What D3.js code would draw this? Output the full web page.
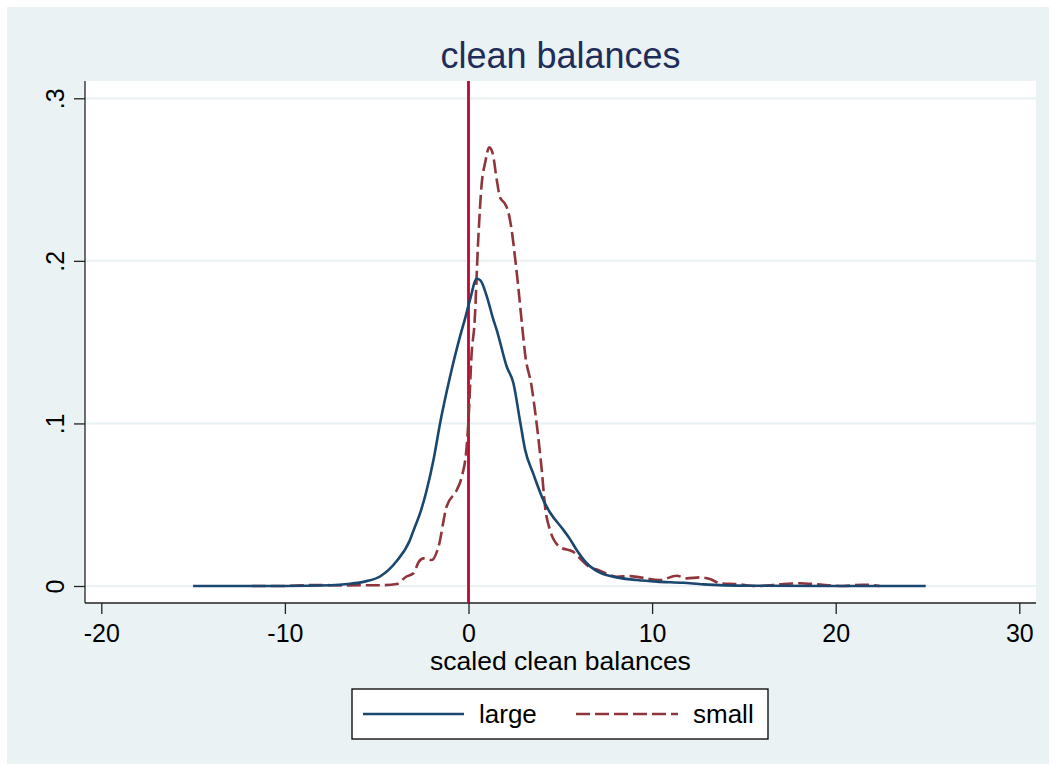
<!DOCTYPE html>
<html><head><meta charset="utf-8">
<script src="https://cdn.jsdelivr.net/npm/d3@7"></script>
<style>body{margin:0;background:#fff} svg{display:block}</style>
</head><body><svg id="c" width="1056" height="771"></svg>
<script>
// ---- data ----
const titleText = "clean balances";
const xAxisTitle = "scaled clean balances";
const xTicks = [-20, -10, 0, 10, 20, 30];
const xTickLabels = ["-20", "-10", "0", "10", "20", "30"];
const yTicks = [0, 0.1, 0.2, 0.3];
const yTickLabels = ["0", ".1", ".2", ".3"];
const seriesNames = ["large", "small"];
const refLineX = 0;

const largeX = [-15, -10, -7.5, -6.6, -5.55, -4.8, -3.9, -3.2, -3.0, -2.6, -2.3, -1.9, -1.55, -1.0, -0.45, -0.2, 0.08, 0.45, 0.65, 1.0, 1.35, 1.55, 2.08, 2.44, 2.8, 3.08, 3.53, 4.07, 4.44, 5.1, 5.5, 5.9, 6.44, 7.16, 8.07, 9.16, 10.25, 11.7, 12.8, 15.3, 20, 24.9];
const largeY = [0, 0, 0.0005, 0.0012, 0.003, 0.006, 0.0155, 0.028, 0.034, 0.046, 0.058, 0.078, 0.100, 0.129, 0.154, 0.164, 0.176, 0.189, 0.188, 0.178, 0.164, 0.157, 0.135, 0.125, 0.102, 0.084, 0.069, 0.053, 0.0452, 0.0355, 0.0293, 0.022, 0.014, 0.0082, 0.0053, 0.0037, 0.0027, 0.002, 0.001, 0.0002, 0, 0];

const smallX = [-11.8, -10.3, -8.45, -6.6, -4.8, -3.9, -3.4, -3.0, -2.7, -2.46, -2.0, -1.64, -1.19, -0.64, -0.37, -0.1, 0.0, 0.17, 0.33, 0.53, 0.72, 0.9, 1.13, 1.32, 1.54, 1.72, 1.99, 2.17, 2.35, 2.53, 2.71, 2.93, 3.08, 3.44, 3.71, 3.99, 4.17, 4.44, 4.98, 5.71, 6.07, 6.44, 7.16, 8.07, 8.8, 9.34, 10.43, 11.34, 11.88, 12.61, 13.15, 13.7, 14.6, 15.7, 17.15, 18.06, 18.97, 20.4, 21.5, 22.4];
const smallY = [0, 0, 0.0006, 0.0004, 0.0005, 0.0012, 0.0057, 0.0078, 0.015, 0.017, 0.016, 0.024, 0.049, 0.059, 0.067, 0.0857, 0.102, 0.143, 0.162, 0.213, 0.2476, 0.26, 0.2698, 0.266, 0.2497, 0.239, 0.235, 0.230, 0.219, 0.2025, 0.184, 0.159, 0.143, 0.1226, 0.100, 0.0713, 0.0488, 0.0344, 0.024, 0.021, 0.017, 0.0129, 0.0094, 0.0057, 0.0061, 0.0053, 0.0037, 0.0063, 0.0047, 0.0053, 0.0043, 0.0017, 0.0012, 0, 0.0012, 0.0017, 0.001, 0, 0.0008, 0];

// ---- layout ----
const FONT = "'Liberation Sans', Arial, Helvetica, sans-serif";
const svg = d3.select("#c");
const plot = {l: 85, r: 1036, t: 81, b: 603};
const x = d3.scaleLinear().domain([-20, 30]).range([101.3, 1019.3]);
const y = d3.scaleLinear().domain([0, 0.3]).range([586, 98.3]);

svg.append("rect").attr("x", 7).attr("y", 7).attr("width", 1042).attr("height", 757).attr("fill", "#eaf2f3");
svg.append("rect").attr("x", plot.l).attr("y", plot.t).attr("width", plot.r - plot.l).attr("height", plot.b - plot.t).attr("fill", "#fff");

// gridlines
svg.append("g").selectAll("line").data(yTicks).join("line")
  .attr("x1", plot.l).attr("x2", plot.r)
  .attr("y1", d => y(d)).attr("y2", d => y(d))
  .attr("stroke", "#eaf2f3").attr("stroke-width", 2.2);

// axes
const xAxis = svg.append("g").attr("transform", `translate(0,${plot.b})`)
  .call(d3.axisBottom(x).tickValues(xTicks).tickSize(11).tickPadding(4).tickFormat((d, i) => xTickLabels[i]));
xAxis.select(".domain").remove();
xAxis.selectAll(".tick line").attr("stroke", "#222").attr("stroke-width", 1.3);
xAxis.selectAll(".tick text").attr("font-family", FONT).attr("font-size", 25).attr("fill", "#000")
  .attr("y", 38.5).attr("dy", 0);

const yAxis = svg.append("g").attr("transform", `translate(${plot.l},0)`)
  .call(d3.axisLeft(y).tickValues(yTicks).tickSize(11).tickFormat((d, i) => yTickLabels[i]));
yAxis.select(".domain").remove();
yAxis.selectAll(".tick line").attr("stroke", "#222").attr("stroke-width", 1.3);
yAxis.selectAll(".tick text").attr("font-family", FONT).attr("font-size", 25).attr("fill", "#000")
  .attr("transform", "rotate(-90)").attr("x", 0).attr("y", -21).attr("dy", 0).attr("text-anchor", "middle");

svg.append("line").attr("x1", plot.l).attr("x2", plot.r).attr("y1", plot.b).attr("y2", plot.b)
  .attr("stroke", "#222").attr("stroke-width", 1.3);
svg.append("line").attr("x1", plot.l).attr("x2", plot.l).attr("y1", plot.t).attr("y2", plot.b)
  .attr("stroke", "#222").attr("stroke-width", 1.3);

// curves
const line = d3.line().x(d => x(d[0])).y(d => y(d[1])).curve(d3.curveMonotoneX);
const largeData = largeX.map((v, i) => [v, largeY[i]]);
const smallData = smallX.map((v, i) => [v, smallY[i]]);

// reference line
svg.append("line").attr("x1", x(refLineX)).attr("x2", x(refLineX)).attr("y1", plot.t).attr("y2", plot.b)
  .attr("stroke", "#c10534").attr("stroke-width", 2.8);

svg.append("path").datum(smallData).attr("d", line).attr("fill", "none")
  .attr("stroke", "#90353b").attr("stroke-width", 2.6).attr("stroke-dasharray", "14,5");
svg.append("path").datum(largeData).attr("d", line).attr("fill", "none")
  .attr("stroke", "#1a476f").attr("stroke-width", 2.6);

// titles
svg.append("text").attr("x", 560.5).attr("y", 68).attr("text-anchor", "middle")
  .attr("font-family", FONT).attr("font-size", 36).attr("fill", "#1e2d5a").text(titleText);
svg.append("text").attr("x", 560.5).attr("y", 670).attr("text-anchor", "middle")
  .attr("font-family", FONT).attr("font-size", 26.5).attr("fill", "#000").text(xAxisTitle);

// legend
const lg = svg.append("g");
lg.append("rect").attr("x", 352).attr("y", 689).attr("width", 416).attr("height", 50)
  .attr("fill", "#fff").attr("stroke", "#000").attr("stroke-width", 1.3);
const legendItems = [
  {name: seriesNames[0], x1: 363, x2: 464, tx: 479, color: "#1a476f", dash: null},
  {name: seriesNames[1], x1: 576, x2: 678, tx: 693, color: "#90353b", dash: "14,5"}
];
legendItems.forEach(it => {
  const l = lg.append("line").attr("x1", it.x1).attr("x2", it.x2).attr("y1", 714).attr("y2", 714)
    .attr("stroke", it.color).attr("stroke-width", 2.6);
  if (it.dash) l.attr("stroke-dasharray", it.dash);
  lg.append("text").attr("x", it.tx).attr("y", 723).attr("font-family", FONT).attr("font-size", 26)
    .attr("fill", "#000").text(it.name);
});
</script></body></html>
